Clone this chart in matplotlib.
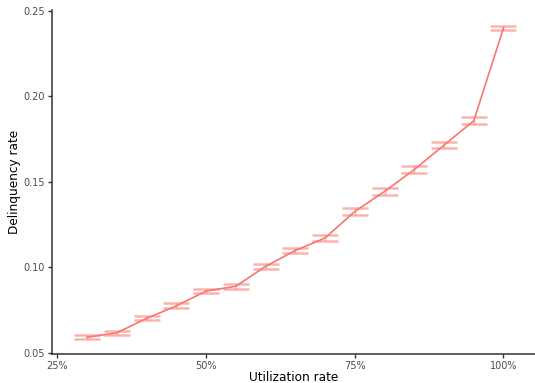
import matplotlib
matplotlib.use('Agg')
import matplotlib.pyplot as plt
from matplotlib.ticker import FuncFormatter

# utilization bins (%) and mean delinquency with standard error
utilization = [30, 35, 40, 45, 50, 55, 60, 65, 70, 75, 80, 85, 90, 95, 100]
delinquency = [0.0590, 0.0616, 0.0700, 0.0773, 0.0860, 0.0888, 0.1004, 0.1097,
               0.1170, 0.1325, 0.1442, 0.1570, 0.1713, 0.1855, 0.2397]
std_err = [0.0012, 0.0012, 0.0012, 0.0015, 0.0014, 0.0016, 0.0017, 0.0017,
           0.0020, 0.0020, 0.0020, 0.0021, 0.0019, 0.0020, 0.0013]

col = '#F8766D'

fig = plt.figure(figsize=(5.35, 3.83), dpi=100)
ax = fig.add_axes([52/535, 1 - 354/383, 1 - 52/535, 344/383])

ax.plot(utilization, delinquency, color=col, lw=1.2, zorder=3)
ax.errorbar(utilization, delinquency, yerr=std_err, fmt='none', ecolor=col,
            alpha=0.55, elinewidth=1.0, capsize=9.5, capthick=1.8, zorder=2)

ax.set_xlim(24.1, 105.3)
ax.set_ylim(0.0492, 0.2503)
ax.set_xticks([25, 50, 75, 100])
ax.xaxis.set_major_formatter(FuncFormatter(lambda v, p: '%d%%' % v))
ax.set_yticks([0.05, 0.10, 0.15, 0.20, 0.25])
ax.yaxis.set_major_formatter(FuncFormatter(lambda v, p: '%.2f' % v))

for s in ['top', 'right']:
    ax.spines[s].set_visible(False)
for s in ['left', 'bottom']:
    ax.spines[s].set_color('#333333')
    ax.spines[s].set_linewidth(1.1)
ax.tick_params(colors='#333333', labelcolor='#4D4D4D', labelsize=7, length=3, width=1.0, pad=2)

ax.set_xlabel('Utilization rate', fontsize=8.7, labelpad=0)
ax.set_ylabel('Delinquency rate', fontsize=8.7, labelpad=2)

fig.savefig('out.png', dpi=100)
